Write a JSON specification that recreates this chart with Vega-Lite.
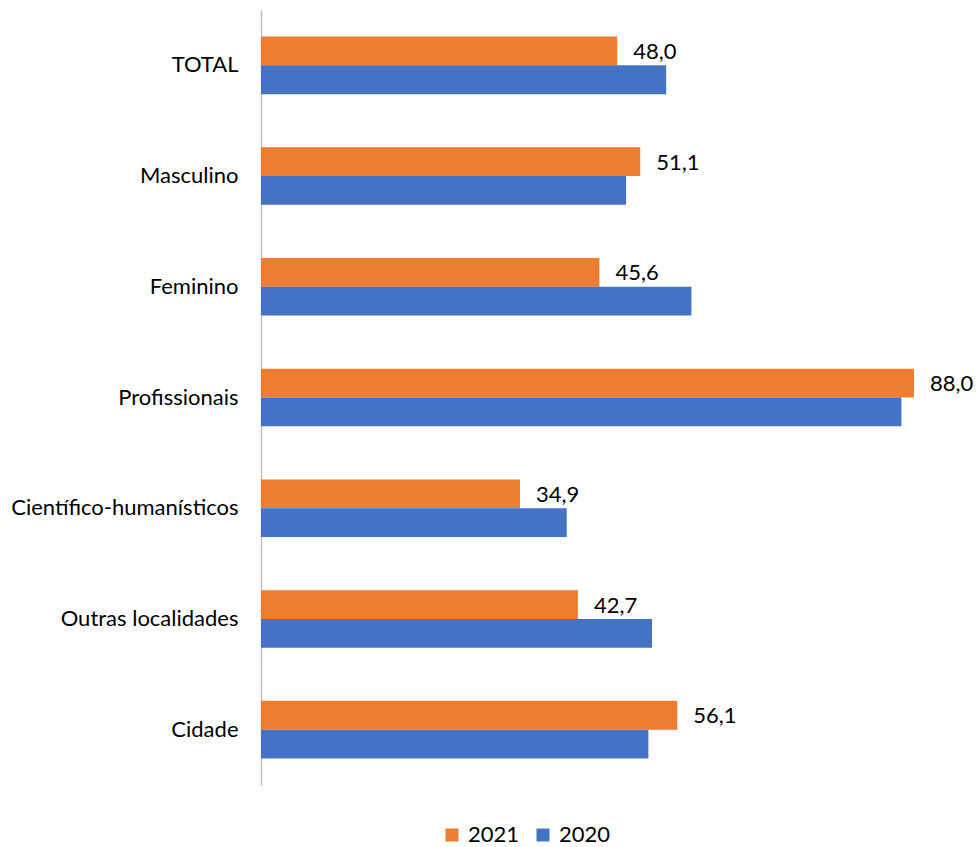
{
  "$schema": "https://vega.github.io/schema/vega-lite/v6.json",
  "width": 705,
  "height": 775,
  "autosize": "none",
  "padding": {"left": 261, "top": 10, "right": 10, "bottom": 62},
  "background": "white",
  "config": {
    "view": {"stroke": null},
    "font": "Lato",
    "locale": {"number": {"decimal": ",", "thousands": ".", "grouping": [3], "currency": ["", " €"]}}
  },
  "data": {"values": [
    {"category": "TOTAL", "year": "2021", "value": 48.0},
    {"category": "TOTAL", "year": "2020", "value": 54.6},
    {"category": "Masculino", "year": "2021", "value": 51.1},
    {"category": "Masculino", "year": "2020", "value": 49.2},
    {"category": "Feminino", "year": "2021", "value": 45.6},
    {"category": "Feminino", "year": "2020", "value": 58.0},
    {"category": "Profissionais", "year": "2021", "value": 88.0},
    {"category": "Profissionais", "year": "2020", "value": 86.3},
    {"category": "Científico-humanísticos", "year": "2021", "value": 34.9},
    {"category": "Científico-humanísticos", "year": "2020", "value": 41.2},
    {"category": "Outras localidades", "year": "2021", "value": 42.7},
    {"category": "Outras localidades", "year": "2020", "value": 52.7},
    {"category": "Cidade", "year": "2021", "value": 56.1},
    {"category": "Cidade", "year": "2020", "value": 52.2}
  ]},
  "encoding": {
    "y": {
      "field": "category", "type": "nominal", "sort": null,
      "scale": {"paddingInner": 0.48, "paddingOuter": 0.24},
      "axis": {"title": null, "ticks": false, "domainColor": "#BFBFBF", "domainWidth": 1.5, "labelFontSize": 22, "labelColor": "#000000", "labelPadding": 23, "labelFont": "Lato", "labelLimit": 300}
    },
    "yOffset": {"field": "year", "type": "nominal", "sort": ["2021", "2020"]},
    "x": {
      "field": "value", "type": "quantitative",
      "scale": {"domain": [0, 95]},
      "axis": null
    }
  },
  "layer": [
    {
      "mark": {"type": "bar"},
      "encoding": {
        "color": {
          "field": "year", "type": "nominal",
          "scale": {"domain": ["2021", "2020"], "range": ["#ED7D31", "#4472C4"]},
          "legend": {"title": null, "orient": "none", "legendX": 180, "legendY": 814, "direction": "horizontal", "symbolType": "square", "symbolSize": 169, "labelFontSize": 22, "labelColor": "#000000", "columnPadding": 12, "labelOffset": 5, "symbolStrokeWidth": 0}
        }
      }
    },
    {
      "transform": [{"filter": "datum.year === '2021'"}],
      "mark": {"type": "text", "align": "left", "dx": 16, "dy": 1, "fontSize": 22, "color": "#000000"},
      "encoding": {
        "text": {"field": "value", "type": "quantitative", "format": ".1f"}
      }
    }
  ]
}
